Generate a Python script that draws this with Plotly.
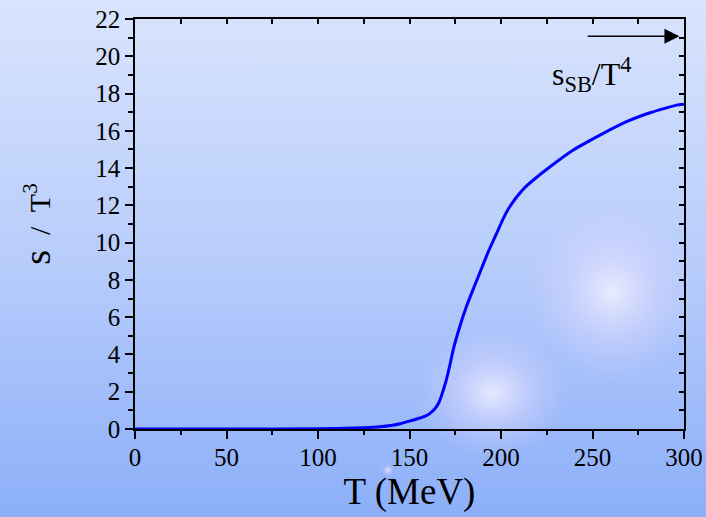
import base64
import plotly.graph_objects as go

# ---- data ----
T_vals = [0, 50, 100, 120, 134, 145, 152, 158, 161.2, 164, 166.2, 167.7, 169, 170.3, 172, 174,
          177.5, 181.2, 185, 188.5, 193, 197.6, 201.3, 204, 206.5, 209, 213, 217.7, 226.8,
          239.5, 254.1, 268.6, 281.4, 290, 296, 300]
s_vals = [0, 0, 0.01, 0.05, 0.12, 0.28, 0.48, 0.66, 0.84, 1.1, 1.45, 1.85, 2.25, 2.7, 3.4, 4.3,
          5.5, 6.6, 7.55, 8.4, 9.5, 10.5, 11.3, 11.8, 12.17, 12.5, 12.95, 13.36, 14.07,
          14.97, 15.77, 16.49, 16.97, 17.22, 17.38, 17.42]
x_ticks = [0, 50, 100, 150, 200, 250, 300]
y_ticks = [0, 2, 4, 6, 8, 10, 12, 14, 16, 18, 20, 22]
arrow_from = (246.6, 21.08)
arrow_to = (297.5, 21.08)
label_pos = (249.5, 19.0)

W, H = 706, 517
L, R, TOP, B = 135, 22, 19, 88
pw, ph = W - L - R, H - TOP - B

svg = f'''<svg xmlns="http://www.w3.org/2000/svg" width="{W}" height="{H}">
<defs>
<linearGradient id="g" x1="0" y1="0" x2="0" y2="1">
<stop offset="0" stop-color="#d9e4fd"/>
<stop offset="0.5" stop-color="#b8cdfb"/>
<stop offset="1" stop-color="#8cafF9"/>
</linearGradient>
<radialGradient id="r1"><stop offset="0" stop-color="#f2f2ff" stop-opacity="0.85"/>
<stop offset="0.5" stop-color="#e2dcff" stop-opacity="0.4"/><stop offset="1" stop-color="#d8d0ff" stop-opacity="0"/></radialGradient>
</defs>
<rect width="{W}" height="{H}" fill="url(#g)"/>
<ellipse cx="493" cy="393" rx="75" ry="65" fill="url(#r1)"/>
<ellipse cx="612" cy="292" rx="85" ry="90" fill="url(#r1)"/>
<ellipse cx="388" cy="470" rx="6" ry="6" fill="url(#r1)"/>
</svg>'''
src = "data:image/svg+xml;base64," + base64.b64encode(svg.encode()).decode()

font = "Liberation Serif"

fig = go.Figure()
fig.add_trace(go.Scatter(x=T_vals, y=s_vals, mode="lines",
                         line=dict(color="#0000ff", width=3, shape="spline", smoothing=0.4),
                         hoverinfo="skip", showlegend=False))
fig.add_trace(go.Scatter(x=T_vals, y=s_vals, xaxis="x2", yaxis="y2", mode="lines",
                         line=dict(width=0), opacity=0, hoverinfo="skip", showlegend=False))

fig.add_layout_image(dict(source=src, xref="paper", yref="paper",
                          x=-L / pw, y=1 + TOP / ph, sizex=W / pw, sizey=H / ph,
                          xanchor="left", yanchor="top", sizing="stretch", layer="below"))

fig.add_annotation(x=arrow_to[0], y=arrow_to[1], ax=arrow_from[0], ay=arrow_from[1],
                   xref="x", yref="y", axref="x", ayref="y", text="", showarrow=True,
                   arrowhead=2, arrowsize=2, arrowwidth=1.5, arrowcolor="black")
fig.add_annotation(x=label_pos[0], y=label_pos[1], xref="x", yref="y", showarrow=False,
                   text="s<sub>SB</sub>/T<sup>4</sup>",
                   font=dict(family=font, size=32, color="black"))

axis_common = dict(showgrid=False, zeroline=False, showline=True, linecolor="black",
                   linewidth=1.5, tickcolor="black", tickwidth=1.5, automargin=False)

fig.update_layout(
    width=W, height=H, autosize=False,
    margin=dict(l=L, r=R, t=TOP, b=B),
    paper_bgcolor="#b8cdfb", plot_bgcolor="rgba(0,0,0,0)",
    font=dict(family=font, color="black"),
    xaxis=dict(range=[0, 300], tickvals=x_ticks, ticks="outside", ticklen=8,
               tickfont=dict(size=25, family=font), ticklabelstandoff=-3,
               minor=dict(dtick=25, ticks="outside", ticklen=4, tickcolor="black", tickwidth=1.5),
               title=dict(text="T (MeV)", font=dict(size=37, family=font), standoff=6),
               **axis_common),
    yaxis=dict(range=[0, 22], tickvals=y_ticks, ticks="outside", ticklen=8,
               tickfont=dict(size=25, family=font),
               minor=dict(dtick=1, ticks="outside", ticklen=5, tickcolor="black", tickwidth=1.5),
               title=dict(text="<span style='font-size:38px'>s</span>&nbsp; /&nbsp; T<sup>3</sup>",
                          font=dict(size=30, family=font), standoff=36),
               **axis_common),
    xaxis2=dict(range=[0, 300], overlaying="x", side="top", anchor="y", dtick=25,
                ticks="inside", ticklen=5, showticklabels=False, **axis_common),
    yaxis2=dict(range=[0, 22], overlaying="y", side="right", anchor="x", dtick=1,
                ticks="inside", ticklen=5, showticklabels=False, **axis_common),
)

post = (
    "document.body.style.margin='0';document.body.style.overflow='hidden';"
)

fig.write_html("out.html",
               config={"responsive": False, "displayModeBar": False},
               post_script=post)
